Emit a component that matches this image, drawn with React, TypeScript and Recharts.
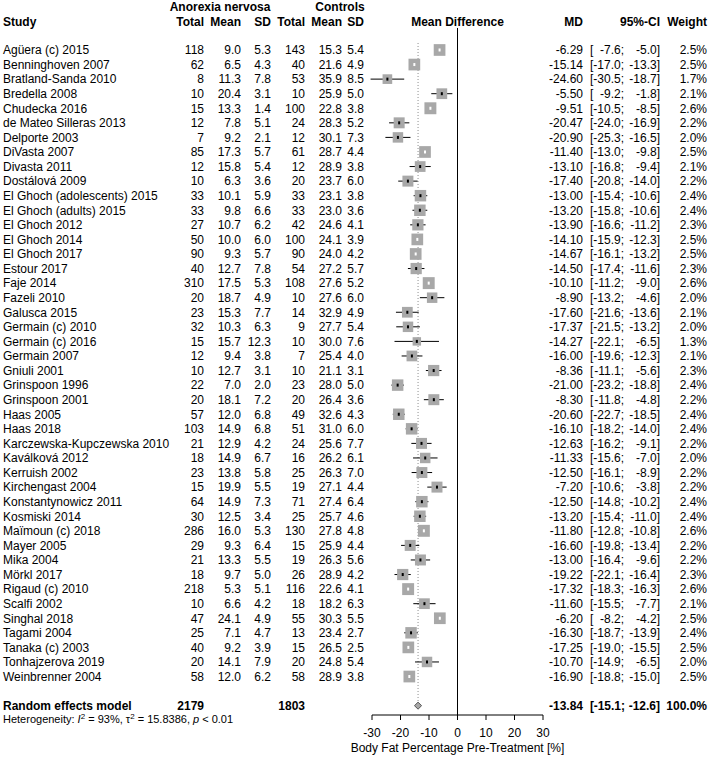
import React from "react";
import {
  ScatterChart,
  Scatter,
  XAxis,
  YAxis,
  ErrorBar,
  ReferenceLine,
} from "recharts";

const studies = [
  "Agüera (c) 2015", "Benninghoven 2007", "Bratland-Sanda 2010", "Bredella 2008",
  "Chudecka 2016", "de Mateo Silleras 2013", "Delporte 2003", "DiVasta 2007",
  "Divasta 2011", "Dostálová 2009", "El Ghoch (adolescents) 2015", "El Ghoch (adults) 2015",
  "El Ghoch 2012", "El Ghoch 2014", "El Ghoch 2017", "Estour 2017", "Faje 2014",
  "Fazeli 2010", "Galusca 2015", "Germain (c) 2010", "Germain (c) 2016", "Germain 2007",
  "Gniuli 2001", "Grinspoon 1996", "Grinspoon 2001", "Haas 2005", "Haas 2018",
  "Karczewska-Kupczewska 2010", "Kaválková 2012", "Kerruish 2002", "Kirchengast 2004",
  "Konstantynowicz 2011", "Kosmiski 2014", "Maïmoun (c) 2018", "Mayer 2005", "Mika 2004",
  "Mörkl 2017", "Rigaud (c) 2010", "Scalfi 2002", "Singhal 2018", "Tagami 2004",
  "Tanaka (c) 2003", "Tonhajzerova 2019", "Weinbrenner 2004",
];

const anTotal = [118, 62, 8, 10, 15, 12, 7, 85, 12, 10, 33, 33, 27, 50, 90, 40, 310, 20, 23, 32, 15, 12, 10, 22, 20, 57, 103, 21, 18, 23, 15, 64, 30, 286, 29, 21, 18, 218, 10, 47, 25, 40, 20, 58];
const anMean = [9.0, 6.5, 11.3, 20.4, 13.3, 7.8, 9.2, 17.3, 15.8, 6.3, 10.1, 9.8, 10.7, 10.0, 9.3, 12.7, 17.5, 18.7, 15.3, 10.3, 15.7, 9.4, 12.7, 7.0, 18.1, 12.0, 14.9, 12.9, 14.9, 13.8, 19.9, 14.9, 12.5, 16.0, 9.3, 13.3, 9.7, 5.3, 6.6, 24.1, 7.1, 9.2, 14.1, 12.0];
const anSd = [5.3, 4.3, 7.8, 3.1, 1.4, 5.1, 2.1, 5.7, 5.4, 3.6, 5.9, 6.6, 6.2, 6.0, 5.7, 7.8, 5.3, 4.9, 7.7, 6.3, 12.3, 3.8, 3.1, 2.0, 7.2, 6.8, 6.8, 4.2, 6.7, 5.8, 5.5, 7.3, 3.4, 5.3, 6.4, 5.5, 5.0, 5.1, 4.2, 4.9, 4.7, 3.9, 7.9, 6.2];
const ctTotal = [143, 40, 53, 10, 100, 24, 12, 61, 12, 20, 33, 33, 42, 100, 90, 54, 108, 10, 14, 9, 10, 7, 10, 23, 20, 49, 51, 24, 16, 25, 19, 71, 25, 130, 15, 19, 26, 116, 18, 55, 13, 15, 20, 58];
const ctMean = [15.3, 21.6, 35.9, 25.9, 22.8, 28.3, 30.1, 28.7, 28.9, 23.7, 23.1, 23.0, 24.6, 24.1, 24.0, 27.2, 27.6, 27.6, 32.9, 27.7, 30.0, 25.4, 21.1, 28.0, 26.4, 32.6, 31.0, 25.6, 26.2, 26.3, 27.1, 27.4, 25.7, 27.8, 25.9, 26.3, 28.9, 22.6, 18.2, 30.3, 23.4, 26.5, 24.8, 28.9];
const ctSd = [5.4, 4.9, 8.5, 5.0, 3.8, 5.2, 7.3, 4.4, 3.8, 6.0, 3.8, 3.6, 4.1, 3.9, 4.2, 5.7, 5.2, 6.0, 4.9, 5.4, 7.6, 4.0, 3.1, 5.0, 3.6, 4.3, 6.0, 7.7, 6.1, 7.0, 4.4, 6.4, 4.6, 4.8, 4.4, 5.6, 4.2, 4.1, 6.3, 5.5, 2.7, 2.5, 5.4, 3.8];

const md = [-6.29, -15.14, -24.60, -5.50, -9.51, -20.47, -20.90, -11.40, -13.10, -17.40, -13.00, -13.20, -13.90, -14.10, -14.67, -14.50, -10.10, -8.90, -17.60, -17.37, -14.27, -16.00, -8.36, -21.00, -8.30, -20.60, -16.10, -12.63, -11.33, -12.50, -7.20, -12.50, -13.20, -11.80, -16.60, -13.00, -19.22, -17.32, -11.60, -6.20, -16.30, -17.25, -10.70, -16.90];
const ciLo = [-7.6, -17.0, -30.5, -9.2, -10.5, -24.0, -25.3, -13.0, -16.8, -20.8, -15.4, -15.8, -16.6, -15.9, -16.1, -17.4, -11.2, -13.2, -21.6, -21.5, -22.1, -19.6, -11.1, -23.2, -11.8, -22.7, -18.2, -16.2, -15.6, -16.1, -10.6, -14.8, -15.4, -12.8, -19.8, -16.4, -22.1, -18.3, -15.5, -8.2, -18.7, -19.0, -14.9, -18.8];
const ciHi = [-5.0, -13.3, -18.7, -1.8, -8.5, -16.9, -16.5, -9.8, -9.4, -14.0, -10.6, -10.6, -11.2, -12.3, -13.2, -11.6, -9.0, -4.6, -13.6, -13.2, -6.5, -12.3, -5.6, -18.8, -4.8, -18.5, -14.0, -9.1, -7.0, -8.9, -3.8, -10.2, -11.0, -10.8, -13.4, -9.6, -16.4, -16.3, -7.7, -4.2, -13.9, -15.5, -6.5, -15.0];
const weight = [2.5, 2.5, 1.7, 2.1, 2.6, 2.2, 2.0, 2.5, 2.1, 2.2, 2.4, 2.4, 2.3, 2.5, 2.5, 2.3, 2.6, 2.0, 2.1, 2.0, 1.3, 2.1, 2.3, 2.4, 2.2, 2.4, 2.4, 2.2, 2.0, 2.2, 2.2, 2.4, 2.4, 2.6, 2.2, 2.2, 2.3, 2.6, 2.1, 2.5, 2.4, 2.5, 2.0, 2.5];

const pooledMd = -13.84;
const pooledLo = -15.1;
const pooledHi = -12.6;
const pooledAnTotal = 2179;
const pooledCtTotal = 1803;
const xTicks = [-30, -20, -10, 0, 10, 20, 30];

const FONT = '"Liberation Sans", Arial, Helvetica, sans-serif';
const GREY = "#a8a8a8";

// row layout (y axis is in "row" units, row 0 = first study)
const ROW_TOP = -3.43;
const ROW_BOTTOM = 45.64;
const ROW_HEAD1 = -2.97;
const ROW_HEAD2 = -1.94;
const ROW_POOLED = 45;

const PX_PER_UNIT = 171 / 60;
const boxSide = (w: number) => 7.4 * Math.sqrt(w);

const rows = studies.map((name, i) => ({
  i,
  name,
  x: md[i],
  y: i,
  w: weight[i],
  err: [md[i] - ciLo[i], ciHi[i] - md[i]],
  inside: (ciHi[i] - ciLo[i]) * PX_PER_UNIT < boxSide(weight[i]),
}));

const diamond = [
  { x: pooledLo, y: ROW_POOLED },
  { x: pooledMd, y: ROW_POOLED - 0.24 },
  { x: pooledHi, y: ROW_POOLED },
  { x: pooledMd, y: ROW_POOLED + 0.24 },
  { x: pooledLo, y: ROW_POOLED },
];

const yTicks = [ROW_HEAD1, ROW_HEAD2, ...rows.map((r) => r.y), ROW_POOLED];

const Txt = ({ x, y, anchor = "end", bold = false, size = 12, children }: any) => (
  <text
    x={x}
    y={y}
    dy="0.36em"
    textAnchor={anchor}
    fontSize={size}
    fontWeight={bold ? "bold" : "normal"}
    fontFamily={FONT}
    fill="#000"
  >
    {children}
  </text>
);

const TableRow = (props: any) => {
  const { y, payload } = props;
  const v = payload.value;
  if (Math.abs(v - ROW_HEAD1) < 0.01) {
    return (
      <g>
        <Txt x={220} y={y} anchor="middle" bold>Anorexia nervosa</Txt>
        <Txt x={340} y={y} anchor="middle" bold>Controls</Txt>
      </g>
    );
  }
  if (Math.abs(v - ROW_HEAD2) < 0.01) {
    return (
      <g>
        <Txt x={3} y={y} anchor="start" bold>Study</Txt>
        <Txt x={204} y={y} bold>Total</Txt>
        <Txt x={241} y={y} bold>Mean</Txt>
        <Txt x={271} y={y} bold>SD</Txt>
        <Txt x={305} y={y} bold>Total</Txt>
        <Txt x={342} y={y} bold>Mean</Txt>
        <Txt x={364} y={y} bold>SD</Txt>
        <Txt x={457.5} y={y} anchor="middle" bold>Mean Difference</Txt>
        <Txt x={583} y={y} bold>MD</Txt>
        <Txt x={660} y={y} bold>95%-CI</Txt>
        <Txt x={707} y={y} bold>Weight</Txt>
      </g>
    );
  }
  if (v === ROW_POOLED) {
    return (
      <g>
        <Txt x={3} y={y} anchor="start" bold>Random effects model</Txt>
        <Txt x={204} y={y} bold>{pooledAnTotal}</Txt>
        <Txt x={305} y={y} bold>{pooledCtTotal}</Txt>
        <Txt x={583} y={y} bold>{pooledMd.toFixed(2)}</Txt>
        <Txt x={590} y={y} anchor="start" bold>[</Txt>
        <Txt x={625} y={y} bold>{pooledLo.toFixed(1)};</Txt>
        <Txt x={660} y={y} bold>{pooledHi.toFixed(1)}]</Txt>
        <Txt x={707} y={y} bold>100.0%</Txt>
        <text x={3} y={y + 13.5} dy="0.36em" fontSize={11} fontFamily={FONT} fill="#000">
          Heterogeneity: <tspan fontStyle="italic">I</tspan>
          <tspan dy={-4} fontSize={8}>2</tspan>
          <tspan dy={4}> = 93%, τ</tspan>
          <tspan dy={-4} fontSize={8}>2</tspan>
          <tspan dy={4}> = 15.8386, </tspan>
          <tspan fontStyle="italic">p</tspan> &lt; 0.01
        </text>
      </g>
    );
  }
  const i = Math.round(v);
  if (i < 0 || i >= studies.length) return <g />;
  return (
    <g>
      <Txt x={3} y={y} anchor="start">{studies[i]}</Txt>
      <Txt x={204} y={y}>{anTotal[i]}</Txt>
      <Txt x={241} y={y}>{anMean[i].toFixed(1)}</Txt>
      <Txt x={271} y={y}>{anSd[i].toFixed(1)}</Txt>
      <Txt x={305} y={y}>{ctTotal[i]}</Txt>
      <Txt x={342} y={y}>{ctMean[i].toFixed(1)}</Txt>
      <Txt x={364} y={y}>{ctSd[i].toFixed(1)}</Txt>
      <Txt x={583} y={y}>{md[i].toFixed(2)}</Txt>
      <Txt x={590} y={y} anchor="start">[</Txt>
      <Txt x={624} y={y}>{ciLo[i].toFixed(1)};</Txt>
      <Txt x={660} y={y}>{ciHi[i].toFixed(1)}]</Txt>
      <Txt x={707} y={y}>{weight[i].toFixed(1)}%</Txt>
    </g>
  );
};

const Box = (p: any) => {
  const s = boxSide(p.payload.w);
  return <rect x={p.cx - s / 2} y={p.cy - s / 2} width={s} height={s} fill={GREY} />;
};

const Mark = (color: string) => (p: any) => (
  <rect x={p.cx - 1} y={p.cy - 1.5} width={2} height={3} fill={color} />
);

const App = () => {
  return (
    <div style={{ position: "absolute", left: 0, top: 0, background: "#fff" }}>
      <ScatterChart
        width={709}
        height={758}
        margin={{ top: 0, right: 166, bottom: 0, left: 0 }}
        style={{ fontFamily: FONT }}
      >
        <XAxis
          type="number"
          dataKey="x"
          domain={[-30, 30]}
          ticks={xTicks}
          interval={0}
          allowDataOverflow
          height={43}
          tickSize={5}
          tickMargin={8}
          axisLine={{ stroke: "#000" }}
          tickLine={{ stroke: "#000" }}
          tick={{ fill: "#000", fontSize: 12, fontFamily: FONT }}
          label={{
            value: "Body Fat Percentage Pre-Treatment [%]",
            position: "insideBottom",
            offset: 6,
            fill: "#000",
            fontSize: 12,
            fontFamily: FONT,
          }}
        />
        <YAxis
          type="number"
          dataKey="y"
          domain={[ROW_TOP, ROW_BOTTOM]}
          reversed
          allowDataOverflow
          ticks={yTicks}
          interval={0}
          width={372}
          axisLine={false}
          tickLine={false}
          tick={(p: any) => <TableRow {...p} />}
        />
        <ReferenceLine
          segment={[{ x: pooledMd, y: -0.48 }, { x: pooledMd, y: 44.76 }]}
          stroke="#8c8c8c"
          strokeDasharray="1 2"
        />
        <ReferenceLine
          segment={[{ x: 0, y: -1.51 }, { x: 0, y: ROW_BOTTOM }]}
          stroke="#000"
          strokeWidth={1}
        />
        <Scatter data={rows} shape={Box} fill={GREY} isAnimationActive={false} />
        <Scatter
          data={rows.filter((r) => !r.inside)}
          shape={Mark("#000")}
          fill="#000"
          isAnimationActive={false}
        >
          <ErrorBar dataKey="err" direction="x" width={0} stroke="#000" strokeWidth={1} />
        </Scatter>
        <Scatter
          data={rows.filter((r) => r.inside)}
          shape={Mark("#fff")}
          fill="#fff"
          isAnimationActive={false}
        >
          <ErrorBar dataKey="err" direction="x" width={0} stroke="#fff" strokeWidth={1} />
        </Scatter>
        <Scatter
          data={diamond}
          shape={() => <g />}
          line={{ stroke: "#555", fill: GREY, strokeWidth: 1 }}
          lineType="joint"
          fill={GREY}
          isAnimationActive={false}
        />
      </ScatterChart>
    </div>
  );
};

export default App;
